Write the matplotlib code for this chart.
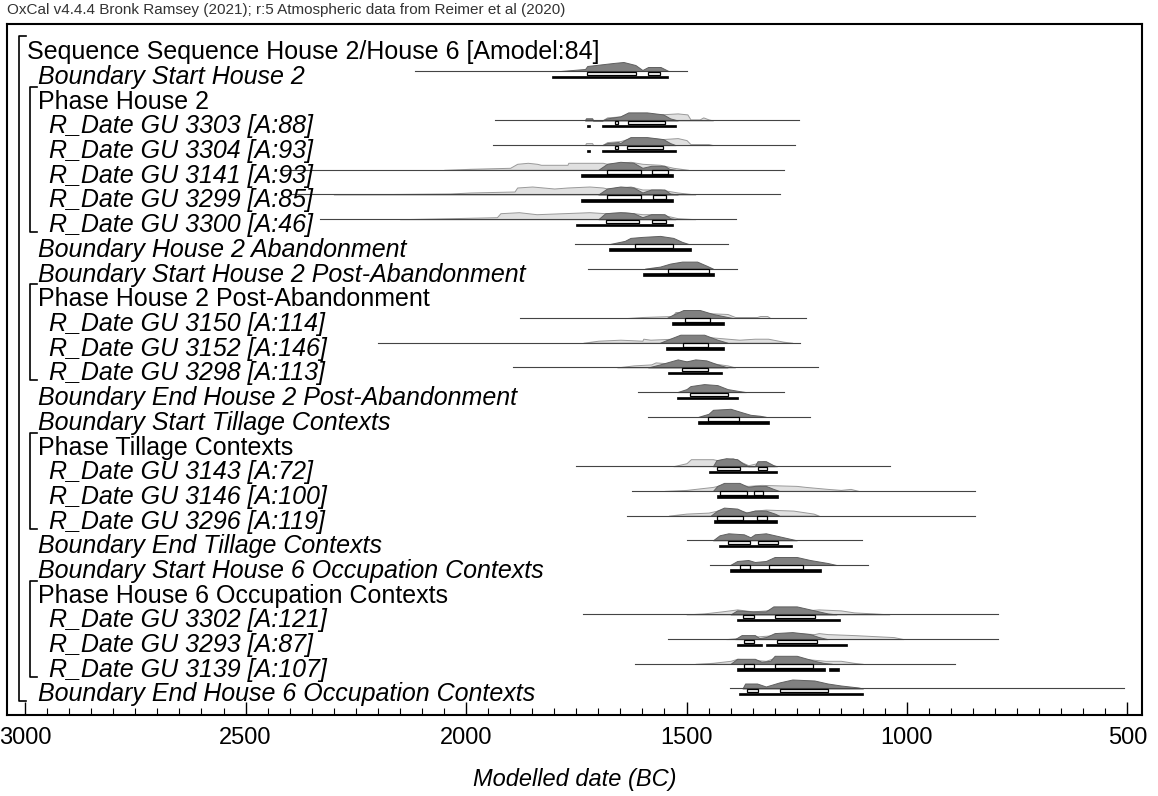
import numpy as np
import matplotlib.pyplot as plt
from matplotlib.patches import Rectangle
from matplotlib.ticker import MultipleLocator

plt.rcParams['font.family'] = ['Liberation Sans', 'DejaVu Sans']

header = "OxCal v4.4.4 Bronk Ramsey (2021); r:5 Atmospheric data from Reimer et al (2020)"

labels = [
    "Sequence Sequence House 2/House 6 [Amodel:84]",
    "Boundary Start House 2",
    "Phase House 2",
    "R_Date GU 3303 [A:88]",
    "R_Date GU 3304 [A:93]",
    "R_Date GU 3141 [A:93]",
    "R_Date GU 3299 [A:85]",
    "R_Date GU 3300 [A:46]",
    "Boundary House 2 Abandonment",
    "Boundary Start House 2 Post-Abandonment",
    "Phase House 2 Post-Abandonment",
    "R_Date GU 3150 [A:114]",
    "R_Date GU 3152 [A:146]",
    "R_Date GU 3298 [A:113]",
    "Boundary End House 2 Post-Abandonment",
    "Boundary Start Tillage Contexts",
    "Phase Tillage Contexts",
    "R_Date GU 3143 [A:72]",
    "R_Date GU 3146 [A:100]",
    "R_Date GU 3296 [A:119]",
    "Boundary End Tillage Contexts",
    "Boundary Start House 6 Occupation Contexts",
    "Phase House 6 Occupation Contexts",
    "R_Date GU 3302 [A:121]",
    "R_Date GU 3293 [A:87]",
    "R_Date GU 3139 [A:107]",
    "Boundary End House 6 Occupation Contexts",
]
kinds = ["seq", "bnd", "phase", "rd", "rd", "rd", "rd", "rd", "bnd", "bnd",
         "phase", "rd", "rd", "rd", "bnd", "bnd", "phase", "rd", "rd", "rd",
         "bnd", "bnd", "phase", "rd", "rd", "rd", "bnd"]

# phase brackets: (phase row, last row inside)
phases = [(2, 7), (10, 13), (16, 19), (22, 25)]

# extent of the thin base line (years BC)
spans = [None, (2115, 1498), None, (1934, 1246), (1938, 1253), (2421, 1280),
         (2399, 1287), (2331, 1387), (1752, 1407), (1723, 1385), None,
         (1877, 1230), (2199, 1242), (1893, 1201), (1609, 1280), (1587, 1219),
         None, (1750, 1038), (1623, 845), (1634, 845), (1498, 1101),
         (1446, 1088), None, (1734, 793), (1541, 793), (1616, 892), (1401, 507)]

# modelled (posterior) distributions: (year BC, relative height)
post = [
    None,
    [(1786, 0), (1730, 2), (1725, 5), (1666, 8), (1643, 9), (1616, 6), (1600, 1), (1587, 4), (1559, 4), (1541, 0)],
    None,
    [(1730, 0), (1728, 2), (1714, 2), (1712, 0), (1691, 0), (1680, 2), (1650, 4), (1632, 8), (1590, 8), (1553, 6), (1537, 2), (1520, 0)],
    [(1691, 0), (1680, 2), (1655, 3), (1650, 2), (1640, 5), (1627, 8), (1590, 8), (1553, 6), (1537, 2), (1525, 0)],
    [(1700, 0), (1680, 6), (1650, 8), (1620, 7), (1600, 2), (1580, 4), (1550, 4), (1539, 1), (1525, 0)],
    [(1700, 0), (1680, 6), (1650, 8), (1620, 7), (1600, 2), (1580, 5), (1550, 5), (1537, 1), (1520, 0)],
    [(1700, 0), (1684, 6), (1650, 7), (1620, 6), (1600, 2), (1580, 5), (1550, 5), (1537, 1), (1525, 0)],
    [(1673, 0), (1640, 3), (1627, 6), (1600, 7), (1560, 8), (1530, 6), (1510, 2), (1496, 0)],
    [(1594, 0), (1560, 2), (1537, 5), (1510, 7), (1476, 7), (1455, 3), (1440, 0)],
    None,
    [(1545, 0), (1532, 3), (1507, 8), (1470, 8), (1440, 4), (1407, 1), (1395, 0)],
    [(1560, 0), (1543, 3), (1514, 8), (1460, 8), (1430, 3), (1407, 0)],
    [(1587, 0), (1560, 3), (1520, 8), (1500, 6), (1480, 8), (1455, 7), (1430, 3), (1407, 0)],
    [(1521, 0), (1500, 3), (1491, 6), (1460, 8), (1430, 7), (1407, 3), (1380, 1), (1365, 0)],
    [(1473, 0), (1450, 3), (1440, 7), (1400, 8), (1378, 5), (1355, 2), (1333, 1), (1320, 0)],
    None,
    [(1440, 0), (1432, 6), (1410, 8), (1385, 7), (1373, 3), (1360, 0), (1345, 0), (1339, 5), (1320, 5), (1303, 1), (1295, 0)],
    [(1440, 0), (1430, 5), (1415, 8), (1380, 8), (1360, 4), (1345, 5), (1320, 5), (1303, 2), (1290, 0)],
    [(1445, 0), (1430, 5), (1415, 8), (1385, 7), (1365, 3), (1345, 5), (1320, 5), (1300, 2), (1290, 0)],
    [(1440, 0), (1425, 5), (1405, 7), (1370, 6), (1355, 3), (1345, 6), (1320, 7), (1290, 4), (1260, 1), (1250, 0)],
    [(1401, 0), (1385, 4), (1360, 5), (1345, 3), (1320, 4), (1300, 8), (1250, 8), (1220, 5), (1180, 2), (1160, 0)],
    None,
    [(1400, 0), (1385, 4), (1350, 3), (1320, 3), (1303, 8), (1250, 8), (1210, 4), (1180, 1), (1160, 0)],
    [(1390, 0), (1375, 4), (1345, 4), (1335, 1), (1320, 2), (1300, 6), (1260, 7), (1220, 5), (1200, 2), (1180, 0)],
    [(1400, 0), (1385, 5), (1345, 5), (1330, 2), (1310, 3), (1300, 8), (1250, 8), (1210, 3), (1190, 1), (1170, 0)],
    [(1373, 0), (1367, 5), (1340, 5), (1320, 2), (1290, 6), (1260, 9), (1210, 8), (1180, 5), (1150, 3), (1110, 1), (1100, 0)],
]

# unmodelled (likelihood) distributions for the dates
like = [
    None, None, None,
    [(1730, 0), (1728, 2), (1714, 2), (1712, 0), (1691, 0), (1680, 3), (1650, 4), (1632, 7), (1600, 7), (1560, 6), (1520, 7), (1498, 6), (1491, 1), (1470, 1), (1462, 3), (1450, 1), (1440, 0)],
    [(1730, 0), (1728, 2), (1714, 2), (1712, 0), (1691, 0), (1680, 3), (1650, 4), (1627, 7), (1590, 7), (1555, 6), (1520, 7), (1500, 5), (1491, 1), (1450, 1), (1440, 0)],
    [(2050, 0), (1990, 1), (1900, 2), (1884, 6), (1860, 7), (1839, 6), (1830, 5), (1770, 5), (1768, 7), (1690, 7), (1680, 6), (1627, 8), (1600, 6), (1560, 5), (1530, 2), (1496, 0)],
    [(2300, 0), (2036, 1), (1990, 2), (1890, 3), (1884, 7), (1850, 8), (1800, 6), (1770, 7), (1720, 8), (1690, 7), (1680, 6), (1627, 8), (1600, 5), (1560, 5), (1520, 2), (1480, 0)],
    [(2150, 0), (2036, 1), (1930, 2), (1922, 6), (1880, 7), (1840, 5), (1780, 6), (1720, 7), (1684, 6), (1640, 7), (1600, 5), (1560, 5), (1520, 1), (1480, 0)],
    None, None, None,
    [(1634, 0), (1600, 1), (1532, 2), (1525, 6), (1476, 6), (1460, 5), (1407, 4), (1390, 1), (1340, 1), (1333, 2), (1317, 2), (1310, 0)],
    [(1734, 0), (1700, 2), (1650, 3), (1600, 2), (1598, 4), (1582, 3), (1530, 4), (1507, 6), (1460, 6), (1407, 4), (1380, 3), (1345, 4), (1315, 4), (1280, 1), (1260, 0)],
    [(1657, 0), (1620, 2), (1580, 3), (1570, 5), (1540, 4), (1510, 6), (1470, 6), (1440, 4), (1407, 2), (1390, 0)],
    None, None, None,
    [(1530, 0), (1500, 3), (1490, 7), (1440, 7), (1430, 6), (1395, 8), (1380, 5), (1360, 1), (1340, 3), (1325, 5), (1310, 2), (1300, 0)],
    [(1550, 0), (1500, 1), (1440, 4), (1420, 6), (1390, 6), (1360, 5), (1330, 6), (1250, 5), (1230, 4), (1180, 2), (1150, 1), (1128, 2), (1110, 0)],
    [(1540, 0), (1500, 2), (1450, 3), (1420, 6), (1390, 6), (1360, 3), (1345, 5), (1320, 6), (1258, 5), (1212, 2), (1200, 0)],
    None, None, None,
    [(1500, 0), (1460, 1), (1420, 3), (1385, 5), (1350, 3), (1320, 4), (1300, 6), (1260, 6), (1230, 4), (1200, 5), (1150, 4), (1120, 2), (1076, 1), (1040, 0)],
    [(1410, 0), (1360, 2), (1300, 4), (1250, 6), (1210, 5), (1200, 6), (1180, 5), (1120, 4), (1030, 2), (1008, 0)],
    [(1480, 0), (1440, 1), (1400, 3), (1385, 5), (1350, 4), (1320, 3), (1300, 6), (1260, 6), (1210, 4), (1185, 3), (1150, 3), (1121, 1), (1100, 0)],
    None,
]

# highest posterior density ranges (from, to) BC
r68 = [[], [(1725, 1614), (1587, 1559)], [],
       [(1662, 1655), (1632, 1548)], [(1662, 1655), (1634, 1553)],
       [(1680, 1603), (1578, 1541)], [(1680, 1603), (1575, 1546)],
       [(1682, 1607), (1578, 1546)], [(1616, 1530)], [(1541, 1448)], [],
       [(1503, 1446)], [(1507, 1451)], [(1510, 1451)], [(1491, 1405)],
       [(1451, 1380)], [], [(1430, 1378), (1337, 1317)],
       [(1423, 1362), (1348, 1326)], [(1430, 1371), (1339, 1317)],
       [(1407, 1357), (1337, 1292)], [(1378, 1357), (1314, 1235)], [],
       [(1371, 1348), (1299, 1208)], [(1369, 1348), (1294, 1203)],
       [(1369, 1348), (1299, 1212)], [(1362, 1337), (1287, 1180)]]
r95 = [[], [(1804, 1541)], [],
       [(1725, 1718), (1691, 1523)], [(1725, 1718), (1691, 1523)],
       [(1739, 1530)], [(1739, 1530)], [(1750, 1530)], [(1675, 1489)],
       [(1598, 1437)], [], [(1532, 1414)], [(1546, 1414)], [(1543, 1420)],
       [(1521, 1383)], [(1473, 1314)], [], [(1448, 1294)], [(1430, 1292)],
       [(1437, 1294)], [(1426, 1260)], [(1401, 1196)], [],
       [(1385, 1151)], [(1385, 1328), (1319, 1135)],
       [(1385, 1185), (1176, 1155)], [(1380, 1099)]]

# ---- layout (pixel units) ----
W, H = 1158, 796
BOX_L, BOX_R, BOX_T, BOX_B = 7, 1142, 24, 715
ROW0, STEP = 46.3, 24.7

fig = plt.figure(figsize=(W / 100, H / 100), dpi=100)
ax = fig.add_axes([BOX_L / W, 1 - BOX_B / H, (BOX_R - BOX_L) / W, (BOX_B - BOX_T) / H])
ax.set_xlim(3041, 467)
ax.set_ylim(BOX_B, BOX_T)   # y in pixels, top down

for i in range(len(labels)):
    y = ROW0 + i * STEP
    if spans[i]:
        ax.plot(spans[i], [y, y], color='#444444', lw=0.8, zorder=4)
    if like[i]:
        xs, hs = zip(*like[i])
        ax.fill_between(xs, y, y - np.array(hs), facecolor='#e0e0e0',
                        edgecolor='#9a9a9a', lw=0.7, zorder=2)
    if post[i]:
        xs, hs = zip(*post[i])
        ax.fill_between(xs, y, y - np.array(hs), facecolor='#808080',
                        edgecolor='#606060', lw=0.7, zorder=3)
    for a, b in r68[i]:
        ax.add_patch(Rectangle((b, y + 0.5), a - b, 3.5, facecolor='white',
                               edgecolor='black', lw=0.9, zorder=5))
    for a, b in r95[i]:
        ax.add_patch(Rectangle((b, y + 4.5), a - b, 2.5, facecolor='black',
                               edgecolor='black', lw=0.5, zorder=5))

ax.set_xticks([3000, 2500, 2000, 1500, 1000, 500])
ax.xaxis.set_minor_locator(MultipleLocator(50))
ax.tick_params(axis='x', which='major', direction='in', length=9.5, width=1,
               labelsize=17, pad=9)
ax.tick_params(axis='x', which='minor', direction='in', length=5, width=0.8)
ax.set_yticks([])
for s in ax.spines.values():
    s.set_linewidth(1.5)
ax.set_xlabel("Modelled date (BC)", fontsize=17, style='italic', labelpad=13)

# overlay for labels and brackets
lay = fig.add_axes([0, 0, 1, 1])
lay.set_xlim(0, W)
lay.set_ylim(H, 0)
lay.axis('off')

lay.text(7, 10, header, fontsize=11, va='center', color='#333333')

xpos = {"seq": 27, "bnd": 38, "phase": 38, "rd": 49}
for i, (lab, k) in enumerate(zip(labels, kinds)):
    y = ROW0 + i * STEP
    lay.text(xpos[k], y + 13, lab, fontsize=18, va='baseline',
             style='italic' if k in ("bnd", "rd") else 'normal')

top = ROW0 - 10
bot = ROW0 + 26 * STEP + 13
lay.plot([26, 19, 19, 26], [top, top, bot, bot], color='black', lw=1.2)
for p, q in phases:
    t = ROW0 + p * STEP - 9
    b = ROW0 + q * STEP + 13
    lay.plot([37, 30, 30, 37], [t, t, b, b], color='black', lw=1.2)

fig.savefig("out.png", dpi=100)
